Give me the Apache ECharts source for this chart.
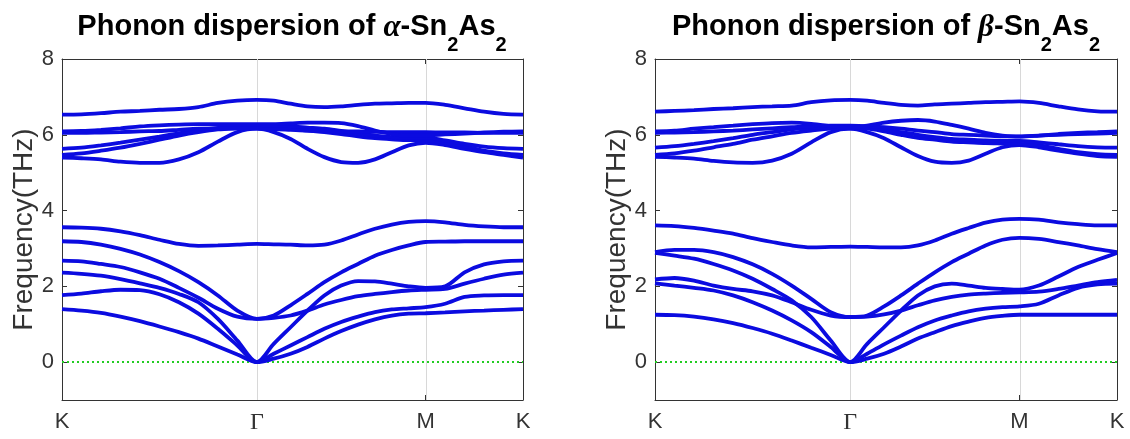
<!DOCTYPE html>
<html><head><meta charset="utf-8">
<script src="https://cdn.jsdelivr.net/npm/echarts@6/dist/echarts.min.js"></script>
<style>html,body{margin:0;padding:0;background:#fff}#c{width:1130px;height:439px}</style>
</head><body><div id="c"></div>
<script>
// k-path sample positions (K -> Γ -> M -> K)
const kx = [0,0.1,0.2,0.3,0.4,0.5,0.6,0.7,0.8,0.9,1.0,
  1.0866,1.1732,1.2598,1.3464,1.433,1.5196,1.6062,1.6928,1.7794,1.866,
  1.966,2.066,2.166,2.266,2.366];
const kNodes = [0, 1, 1.866, 2.366];
const kLabels = ['K', 'Γ', 'M', 'K'];
const yTicks = [0, 2, 4, 6, 8];

// alpha-Sn2As2 bands (THz)
const aZA = [1.40,1.36,1.30,1.20,1.08,0.94,0.79,0.62,0.41,0.20,0, 0.09,0.22,0.40,0.62,0.82,0.99,1.13,1.23,1.28,1.29, 1.31,1.34,1.36,1.38,1.40];
const aTA = [1.77,1.81,1.87,1.91,1.90,1.79,1.58,1.28,0.88,0.44,0, 0.22,0.44,0.66,0.88,1.06,1.20,1.32,1.39,1.42,1.45, 1.54,1.72,1.76,1.77,1.77];
const aLA = [2.36,2.33,2.28,2.19,2.08,1.96,1.80,1.58,1.14,0.57,0, 0.48,0.92,1.36,1.76,2.02,2.14,2.13,2.07,2.00,1.96, 2.00,2.37,2.58,2.66,2.68];
const aO1 = [2.68,2.66,2.59,2.51,2.37,2.20,1.96,1.70,1.41,1.20,1.14, 1.17,1.23,1.36,1.52,1.64,1.74,1.80,1.85,1.89,1.91, 1.93,2.07,2.20,2.31,2.36];
const aO2 = [3.19,3.17,3.10,2.99,2.84,2.64,2.40,2.11,1.76,1.36,1.14, 1.23,1.50,1.80,2.11,2.37,2.59,2.81,2.96,3.08,3.17, 3.18,3.19,3.19,3.19,3.19];
const aO3 = [3.56,3.55,3.52,3.45,3.35,3.23,3.12,3.07,3.08,3.10,3.12, 3.11,3.10,3.08,3.10,3.21,3.37,3.52,3.63,3.70,3.72, 3.69,3.62,3.58,3.56,3.56];
const aH1 = [5.40,5.38,5.35,5.29,5.26,5.26,5.35,5.54,5.82,6.07,6.16, 6.07,5.89,5.63,5.41,5.28,5.26,5.35,5.54,5.72,5.79, 5.73,5.63,5.54,5.47,5.40];
const aH2 = [5.47,5.51,5.58,5.66,5.76,5.87,5.98,6.07,6.14,6.17,6.19, 6.18,6.16,6.11,6.07,6.02,5.96,5.91,5.88,5.86,5.86, 5.79,5.70,5.58,5.51,5.47];
const aH3 = [5.63,5.66,5.72,5.79,5.87,5.95,6.04,6.12,6.18,6.23,6.24, 6.23,6.22,6.19,6.16,6.10,6.04,5.98,5.94,5.92,5.93, 5.85,5.76,5.69,5.65,5.63];
const aH4 = [6.05,6.05,6.06,6.07,6.09,6.10,6.13,6.16,6.17,6.17,6.16, 6.15,6.13,6.11,6.10,6.09,6.09,6.08,6.07,6.07,6.07, 6.06,6.06,6.05,6.05,6.05];
const aH5 = [6.09,6.10,6.13,6.17,6.22,6.25,6.27,6.28,6.28,6.28,6.28, 6.28,6.30,6.32,6.32,6.31,6.23,6.11,6.02,5.98,5.98, 6.01,6.03,6.06,6.08,6.09];
const aH6 = [6.53,6.54,6.57,6.61,6.63,6.66,6.68,6.73,6.84,6.90,6.92, 6.90,6.82,6.75,6.73,6.75,6.79,6.82,6.83,6.84,6.84, 6.79,6.70,6.61,6.55,6.53];

// beta-Sn2As2 bands (THz)
const bZA = [1.25,1.24,1.20,1.13,1.03,0.90,0.75,0.57,0.38,0.19,0, 0.09,0.22,0.41,0.62,0.79,0.95,1.07,1.17,1.22,1.25, 1.25,1.25,1.25,1.25,1.25];
const bTA = [2.08,2.02,1.96,1.89,1.76,1.58,1.36,1.10,0.79,0.40,0, 0.22,0.47,0.70,0.92,1.10,1.23,1.34,1.41,1.45,1.47, 1.54,1.76,1.96,2.05,2.07];
const bLA = [2.88,2.81,2.73,2.59,2.42,2.20,1.93,1.63,1.19,0.57,0, 0.48,0.92,1.36,1.76,2.00,2.07,2.02,1.96,1.93,1.91, 2.02,2.26,2.51,2.70,2.88];
const bO1 = [2.18,2.22,2.15,2.02,1.93,1.87,1.76,1.58,1.38,1.23,1.19, 1.20,1.26,1.36,1.50,1.63,1.72,1.78,1.81,1.83,1.84, 1.86,1.93,2.02,2.11,2.17];
const bO2 = [2.90,2.96,2.96,2.90,2.77,2.58,2.33,2.02,1.67,1.32,1.19, 1.23,1.47,1.76,2.07,2.37,2.64,2.86,3.08,3.23,3.28, 3.25,3.17,3.08,2.98,2.90];
const bO3 = [3.61,3.59,3.54,3.47,3.39,3.27,3.17,3.08,3.03,3.04,3.05, 3.04,3.03,3.03,3.08,3.21,3.39,3.54,3.68,3.76,3.78, 3.76,3.69,3.64,3.61,3.61];
const bH1 = [5.42,5.40,5.37,5.31,5.27,5.26,5.32,5.50,5.80,6.07,6.16, 6.07,5.91,5.67,5.44,5.29,5.26,5.32,5.50,5.67,5.73, 5.67,5.58,5.50,5.44,5.42];
const bH2 = [5.47,5.51,5.58,5.67,5.76,5.87,5.96,6.05,6.11,6.16,6.17, 6.16,6.09,6.00,5.92,5.87,5.82,5.80,5.78,5.77,5.76, 5.72,5.63,5.54,5.49,5.47];
const bH3 = [5.66,5.70,5.76,5.83,5.91,6.00,6.07,6.14,6.18,6.20,6.20, 6.18,6.14,6.07,6.00,5.94,5.89,5.87,5.85,5.84,5.84, 5.80,5.75,5.70,5.67,5.66];
const bH4 = [6.05,6.06,6.07,6.09,6.11,6.14,6.17,6.20,6.23,6.24,6.24, 6.23,6.20,6.16,6.11,6.07,6.02,6.00,5.98,5.96,5.96, 5.98,6.00,6.02,6.03,6.05];
const bH5 = [6.09,6.11,6.16,6.20,6.24,6.28,6.31,6.32,6.29,6.23,6.17, 6.24,6.32,6.37,6.39,6.35,6.26,6.16,6.05,5.98,5.95, 5.98,6.02,6.05,6.07,6.09];
const bH6 = [6.61,6.63,6.65,6.68,6.70,6.73,6.75,6.77,6.86,6.91,6.92, 6.90,6.84,6.79,6.77,6.80,6.82,6.84,6.86,6.87,6.88, 6.84,6.75,6.67,6.62,6.61];

const bandsA = [aZA,aTA,aLA,aO1,aO2,aO3,aH1,aH2,aH3,aH4,aH5,aH6];
const bandsB = [bZA,bTA,bLA,bO1,bO2,bO3,bH1,bH2,bH3,bH4,bH5,bH6];
const greekA = 'α', greekB = 'β';

const AX = '#333';
const SANS = 'Liberation Sans';
const SERIF = 'Liberation Serif';
const BLUE = '#0b0be0';

const grids = [
  {left: 62, top: 59, width: 461, height: 341},
  {left: 655, top: 59, width: 462, height: 341}
];

function kLabel(v) {
  for (let i = 0; i < kNodes.length; i++) {
    if (Math.abs(kNodes[i] - v) < 1e-6) {
      return kLabels[i] === 'Γ' ? '{g|Γ}' : kLabels[i];
    }
  }
  return '';
}

const xAxes = [], yAxes = [];
grids.forEach((g, gi) => {
  xAxes.push({
    type: 'value', gridIndex: gi, position: 'bottom', min: kNodes[0], max: kNodes[3],
    axisLine: {show: true, onZero: false, lineStyle: {color: AX, width: 1}},
    axisTick: {show: true, inside: true, length: 5, customValues: kNodes, lineStyle: {color: AX}},
    axisLabel: {show: true, customValues: kNodes, formatter: kLabel, margin: 11,
      fontSize: 22, color: AX, fontFamily: SANS,
      rich: {g: {fontFamily: SERIF, fontSize: 24, color: AX}}},
    splitLine: {show: false}
  });
  xAxes.push({
    type: 'value', gridIndex: gi, position: 'top', min: kNodes[0], max: kNodes[3],
    axisLine: {show: true, onZero: false, lineStyle: {color: AX, width: 1}},
    axisTick: {show: true, inside: true, length: 5, customValues: kNodes, lineStyle: {color: AX}},
    axisLabel: {show: false},
    splitLine: {show: false}
  });
  yAxes.push({
    type: 'value', gridIndex: gi, position: 'left', min: -1, max: 8,
    name: 'Frequency(THz)', nameLocation: 'middle', nameGap: 24,
    nameTextStyle: {fontSize: 28, color: AX, fontFamily: SANS},
    axisLine: {show: true, onZero: false, lineStyle: {color: AX, width: 1}},
    axisTick: {show: true, inside: true, length: 5, customValues: yTicks, lineStyle: {color: AX}},
    axisLabel: {show: true, customValues: yTicks, margin: 8, fontSize: 22, color: AX, fontFamily: SANS},
    splitLine: {show: false}
  });
  yAxes.push({
    type: 'value', gridIndex: gi, position: 'right', min: -1, max: 8,
    axisLine: {show: true, onZero: false, lineStyle: {color: AX, width: 1}},
    axisTick: {show: true, inside: true, length: 5, customValues: yTicks, lineStyle: {color: AX}},
    axisLabel: {show: false},
    splitLine: {show: false}
  });
});

const series = [];
[bandsA, bandsB].forEach((bands, gi) => {
  // zero line + vertical grid lines at high-symmetry points
  series.push({
    type: 'line', xAxisIndex: gi * 2, yAxisIndex: gi * 2, silent: true, z: 2,
    data: [[kNodes[0], 0], [kNodes[3], 0]], showSymbol: false,
    lineStyle: {color: '#22cc22', width: 2, type: [2, 3]},
    markLine: {silent: true, symbol: 'none', label: {show: false}, z: 1,
      lineStyle: {color: '#d8d8d8', width: 1, type: 'solid'},
      data: [{xAxis: kNodes[1]}, {xAxis: kNodes[2]}]}
  });
  bands.forEach(b => {
    series.push({
      type: 'line', xAxisIndex: gi * 2, yAxisIndex: gi * 2, silent: true, z: 3,
      data: kx.map((x, i) => [x, b[i]]), showSymbol: false, smooth: 0.3,
      lineStyle: {color: BLUE, width: 3.8}
    });
  });
});

const rich = {
  a: {fontFamily: SANS, fontWeight: 'bold', fontSize: 29, color: '#000', lineHeight: 34, verticalAlign: 'top'},
  g: {fontFamily: SERIF, fontStyle: 'italic', fontSize: 31, color: '#000', lineHeight: 34, verticalAlign: 'top'},
  s: {fontFamily: SANS, fontWeight: 'bold', fontSize: 20, color: '#000', lineHeight: 20, padding: [23, 0, 0, 0], verticalAlign: 'top'}
};
function titleText(gr) { return '{a|Phonon dispersion of }{g|' + gr + '}{a|-Sn}{s|2}{a|As}{s|2}'; }

const option = {
  animation: false,
  backgroundColor: '#fff',
  title: [
    {text: titleText(greekA), left: 292, top: 12, padding: 0, textAlign: 'center', textStyle: {rich}},
    {text: titleText(greekB), left: 886, top: 12, padding: 0, textAlign: 'center', textStyle: {rich}}
  ],
  grid: grids,
  xAxis: xAxes,
  yAxis: yAxes,
  series
};
const chart = echarts.init(document.getElementById('c'));
chart.setOption(option);
</script>
</body></html>
